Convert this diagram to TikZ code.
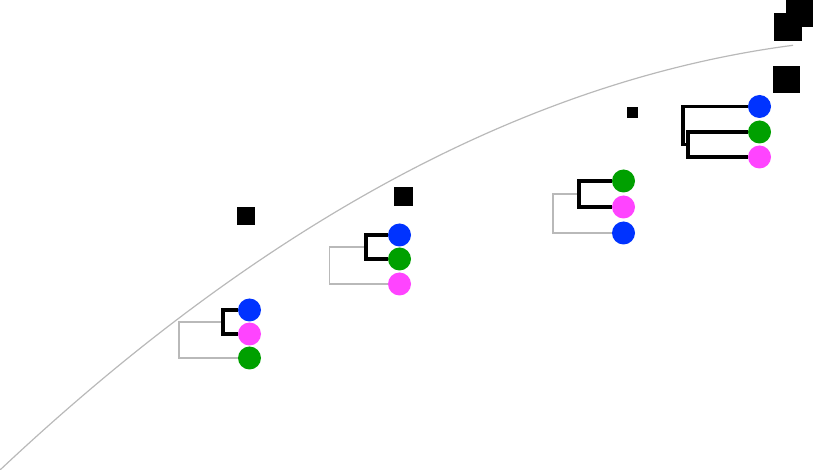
\documentclass[tikz,border=0pt]{standalone}
\definecolor{tipblue}{RGB}{0,51,255}
\definecolor{tipgreen}{RGB}{0,160,0}
\definecolor{tippink}{RGB}{255,68,255}
\definecolor{curvegrey}{RGB}{185,185,185}
\begin{document}
\begin{tikzpicture}[x=1pt,y=-1pt,
		tip/.style={circle,inner sep=0pt,minimum size=23pt},
		box/.style={fill=black,inner sep=0pt},
		inner/.style={line width=3.5pt,black},
		outer/.style={line width=1.6pt,curvegrey}]
		\useasboundingbox (0,0) rectangle (815,470);
		\draw[curvegrey,line width=1.2pt,domain=0:793,samples=60,smooth,variable=\x] plot (\x,{470-0.94*\x+5.1*(\x/100)^2});
		% squares
		\node[box,minimum size=18pt] (sq1) at (246,216) {};
		\node[box,minimum size=19pt] (sq2) at (403.5,196.5) {};
		\node[box,minimum size=11pt] (sq3) at (632.5,113) {};
		\node[box,minimum size=27pt] (sq4) at (786.5,79.5) {};
		\node[box,minimum size=28pt] (sq5) at (788,27) {};
		\node[box,minimum size=27pt] (sq6) at (799.5,14) {};
		% tree 1
		\node[tip,fill=tipblue] (a1) at (249.5,310) {};
		\node[tip,fill=tippink] (a2) at (249.5,334) {};
		\node[tip,fill=tipgreen] (a3) at (249.5,358) {};
		\coordinate (ja) at (223,322);
		\coordinate (ga) at (179,322);
		\draw[outer] (ja) -- (ga) |- (a3.west);
		\draw[inner] (a1.west) -| (ja) |- (a2.west);
		% tree 2
		\node[tip,fill=tipblue] (b1) at (399.5,235) {};
		\node[tip,fill=tipgreen] (b2) at (399.5,259) {};
		\node[tip,fill=tippink] (b3) at (399.5,284) {};
		\coordinate (jb) at (366,247);
		\coordinate (gb) at (329.5,247);
		\draw[outer] (jb) -- (gb) |- (b3.west);
		\draw[inner] (b1.west) -| (jb) |- (b2.west);
		% tree 3
		\node[tip,fill=tipgreen] (c1) at (623.5,181) {};
		\node[tip,fill=tippink] (c2) at (623.5,207) {};
		\node[tip,fill=tipblue] (c3) at (623.5,233) {};
		\coordinate (jc) at (579,194);
		\coordinate (gc) at (553,194);
		\draw[outer] (jc) -- (gc) |- (c3.west);
		\draw[inner] (c1.west) -| (jc) |- (c2.west);
		% tree 4
		\node[tip,fill=tipblue] (d1) at (759.5,106.5) {};
		\node[tip,fill=tipgreen] (d2) at (759.5,132) {};
		\node[tip,fill=tippink] (d3) at (759.5,157) {};
		\coordinate (jd) at (688,144.5);
		\coordinate (gd) at (683,144.5);
		\draw[inner] (d2.west) -| (jd) |- (d3.west);
		\draw[inner] (jd) -- (gd) |- (d1.west);
\end{tikzpicture}
\end{document}
